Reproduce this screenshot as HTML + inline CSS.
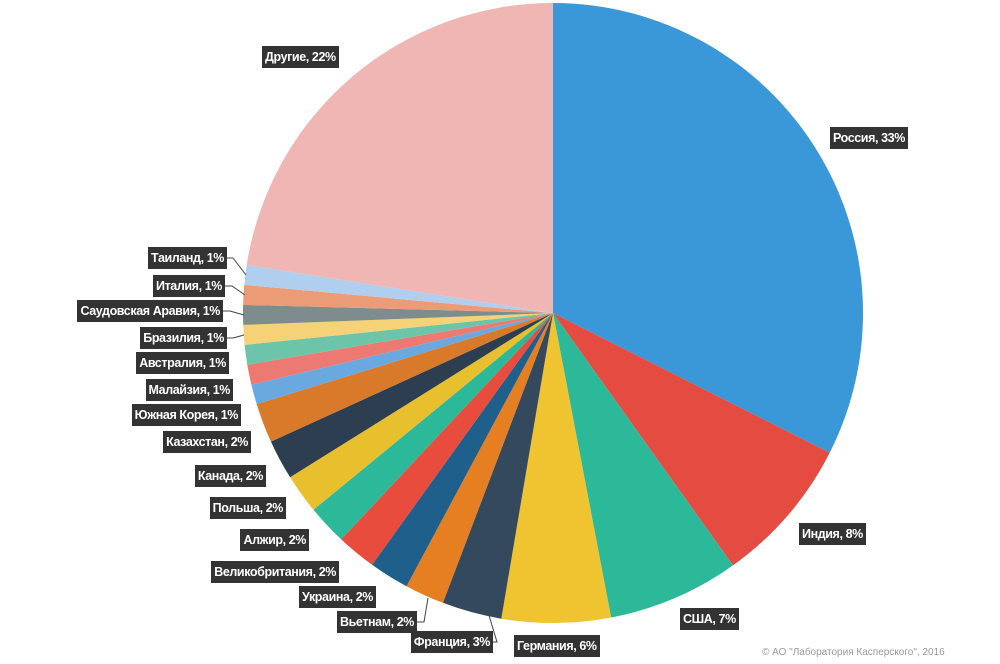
<!DOCTYPE html><html><head><meta charset="utf-8"><style>
body{margin:0;background:#fff;width:1000px;height:664px;overflow:hidden;position:relative;font-family:"Liberation Sans Narrow","Liberation Sans",sans-serif}
.l{position:absolute;background:#333;color:#fff;font-weight:bold;font-size:12.5px;letter-spacing:-0.4px;line-height:22px;height:22px;padding:0 3px;white-space:nowrap;box-sizing:border-box}
.c{position:absolute;left:762px;top:647px;font-size:10px;color:#999;font-family:"Liberation Sans",sans-serif}
</style></head><body>
<svg width="1000" height="664" style="position:absolute;left:0;top:0">
<g>
<path d="M553,313 L553,3 A310,310 0 0 1 829.7,452.8Z" fill="#3a98d9"/>
<path d="M553,313 L829.7,452.8 A310,310 0 0 1 733.0,565.4Z" fill="#e44c41"/>
<path d="M553,313 L733.0,565.4 A310,310 0 0 1 611.1,617.5Z" fill="#2bb99a"/>
<path d="M553,313 L611.1,617.5 A310,310 0 0 1 501.3,618.7Z" fill="#f0c330"/>
<path d="M553,313 L501.3,618.7 A310,310 0 0 1 442.9,602.8Z" fill="#34495e"/>
<path d="M553,313 L442.9,602.8 A310,310 0 0 1 406.5,586.2Z" fill="#e67e22"/>
<path d="M553,313 L406.5,586.2 A310,310 0 0 1 372.1,564.8Z" fill="#1f5f8b"/>
<path d="M553,313 L372.1,564.8 A310,310 0 0 1 341.2,539.4Z" fill="#e74c3c"/>
<path d="M553,313 L341.2,539.4 A310,310 0 0 1 313.5,509.8Z" fill="#2bb99a"/>
<path d="M553,313 L313.5,509.8 A310,310 0 0 1 290.1,477.3Z" fill="#e8bf2c"/>
<path d="M553,313 L290.1,477.3 A310,310 0 0 1 270.9,441.6Z" fill="#2c3e50"/>
<path d="M553,313 L270.9,441.6 A310,310 0 0 1 256.7,404.1Z" fill="#d9792a"/>
<path d="M553,313 L256.7,404.1 A310,310 0 0 1 251.4,384.8Z" fill="#6aa9e0"/>
<path d="M553,313 L251.4,384.8 A310,310 0 0 1 247.3,364.7Z" fill="#ec7a73"/>
<path d="M553,313 L247.3,364.7 A310,310 0 0 1 244.6,344.9Z" fill="#6cc5a8"/>
<path d="M553,313 L244.6,344.9 A310,310 0 0 1 243.2,324.9Z" fill="#f5d276"/>
<path d="M553,313 L243.2,324.9 A310,310 0 0 1 243.1,304.9Z" fill="#7f8c8d"/>
<path d="M553,313 L243.1,304.9 A310,310 0 0 1 244.3,284.9Z" fill="#eb9b75"/>
<path d="M553,313 L244.3,284.9 A310,310 0 0 1 246.7,265.0Z" fill="#b0cfee"/>
<path d="M553,313 L246.7,265.0 A310,310 0 0 1 553,3Z" fill="#f0b6b4"/>
</g>
<g stroke="#444" stroke-width="1" fill="none">
<polyline points="227,258 233,258 246,275"/>
<polyline points="225,286 232,286 245,295"/>
<polyline points="223,311 230,311 244,315"/>
<polyline points="227,338 233,338 244,335"/>
<polyline points="417,622 424,622 428,598"/>
<polyline points="493,642 497,642 488,612"/>
</g>
</svg>
<div class="l" style="left:830px;top:127px">Россия, 33%</div>
<div class="l" style="left:799px;top:523px">Индия, 8%</div>
<div class="l" style="left:680px;top:608px">США, 7%</div>
<div class="l" style="left:514px;top:635px">Германия, 6%</div>
<div class="l" style="right:507px;top:631px">Франция, 3%</div>
<div class="l" style="right:583px;top:611px">Вьетнам, 2%</div>
<div class="l" style="right:624px;top:586px">Украина, 2%</div>
<div class="l" style="right:661px;top:561px">Великобритания, 2%</div>
<div class="l" style="right:691px;top:529px">Алжир, 2%</div>
<div class="l" style="right:714px;top:497px">Польша, 2%</div>
<div class="l" style="right:734px;top:465px">Канада, 2%</div>
<div class="l" style="right:749px;top:431px">Казахстан, 2%</div>
<div class="l" style="right:759px;top:404px">Южная Корея, 1%</div>
<div class="l" style="right:767px;top:379px">Малайзия, 1%</div>
<div class="l" style="right:771px;top:352px">Австралия, 1%</div>
<div class="l" style="right:773px;top:327px">Бразилия, 1%</div>
<div class="l" style="right:777px;top:300px">Саудовская Аравия, 1%</div>
<div class="l" style="right:775px;top:275px">Италия, 1%</div>
<div class="l" style="right:773px;top:247px">Таиланд, 1%</div>
<div class="l" style="left:262px;top:46px">Другие, 22%</div>
<div class="c">© АО "Лаборатория Касперского", 2016</div>
</body></html>
